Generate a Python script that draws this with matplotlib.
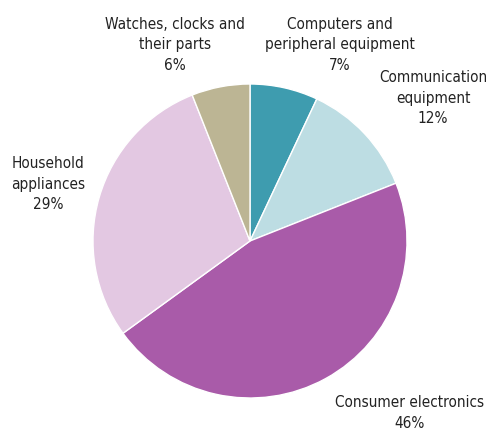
import matplotlib.pyplot as plt

categories = ["Computers and\nperipheral equipment", "Communication\nequipment",
              "Consumer electronics", "Household\nappliances",
              "Watches, clocks and\ntheir parts"]
shares = [7, 12, 46, 29, 6]
colors = ["#3e9caf", "#bddde3", "#a95ba9", "#e3c8e2", "#bcb594"]

# label centres in pixels (x, y from top)
label_pos = [(340, 45), (433, 98), (410, 413), (48, 184), (175, 45)]

plt.rcParams['font.family'] = ['DejaVu Sans']
plt.rcParams['font.stretch'] = 'condensed'

W, H = 486, 428
fig = plt.figure(figsize=(W / 100, H / 100), dpi=100)
ax = fig.add_axes([93 / W, 30 / H, 314 / W, 314 / H])
ax.pie(shares, colors=colors, startangle=90, counterclock=False,
       wedgeprops=dict(edgecolor="white", linewidth=1))
ax.set_xlim(-1, 1)
ax.set_ylim(-1, 1)
ax.set_aspect("equal")

for name, val, (px, py) in zip(categories, shares, label_pos):
    fig.text(px / W, 1 - py / H, f"{name}\n{val}%", ha="center", va="center",
             fontsize=11, fontstretch="condensed", linespacing=1.45,
             color="#222222")

fig.savefig("out.png", dpi=100)
